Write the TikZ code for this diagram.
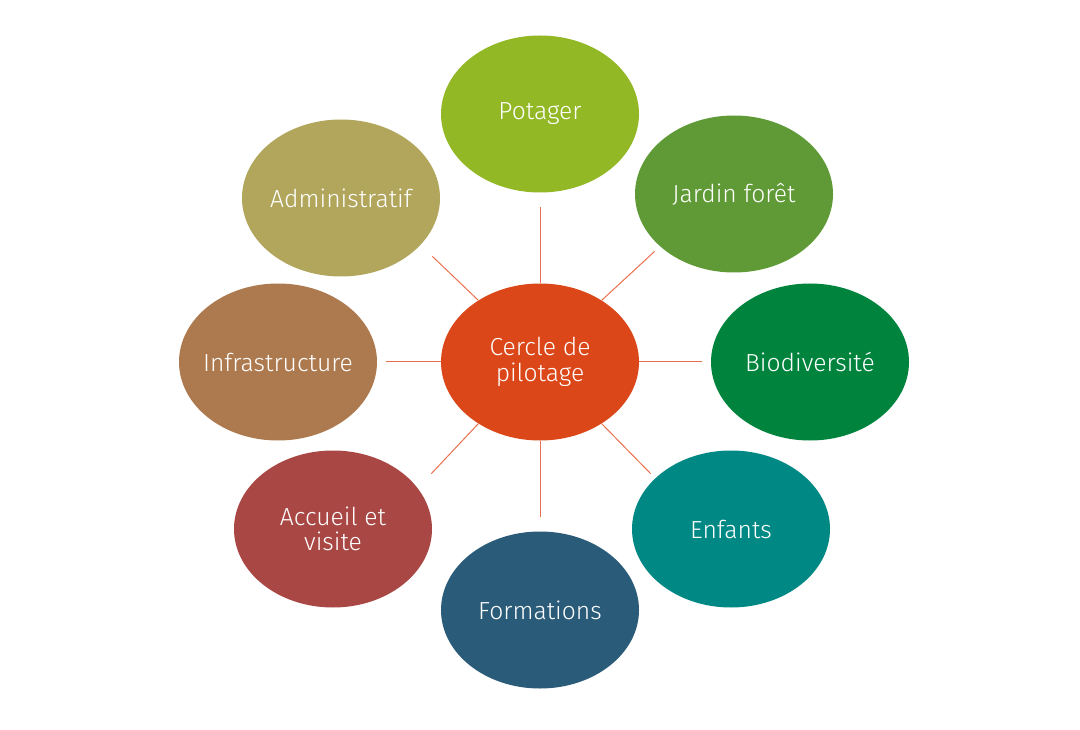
\documentclass[tikz,border=0pt]{standalone}
\usepackage{fontspec}
\setmainfont{Fira Sans Light}
\usepackage{tikz}
\usetikzlibrary{shapes.geometric}

\definecolor{cpilot}{HTML}{DB4718}
\definecolor{cpotager}{HTML}{93B826}
\definecolor{cjardin}{HTML}{5F9A36}
\definecolor{cbio}{HTML}{00843D}
\definecolor{cenfants}{HTML}{008984}
\definecolor{cformation}{HTML}{2A5B78}
\definecolor{caccueil}{HTML}{A94744}
\definecolor{cinfra}{HTML}{AD7A50}
\definecolor{cadmin}{HTML}{B2A65C}
\definecolor{clink}{HTML}{E9704F}

\begin{document}
\begin{tikzpicture}[
    x=0.75pt, y=-0.75pt,
    every node/.style={font=\fontsize{18.5pt}{19pt}\selectfont},
    pole/.style={ellipse, minimum width=148.5pt, minimum height=117.75pt,
        inner xsep=-25pt, inner ysep=0pt, align=center, text=white},
    link/.style={draw=clink, line width=0.75pt}
]
\useasboundingbox (0,0) rectangle (1080,730);

\node[pole, fill=cpilot] (pilot) at (540,362) {Cercle de\\pilotage};
\node[pole, fill=cpotager] (potager) at (540,114) {Potager};
\node[pole, fill=cjardin] (jardin) at (734,194) {Jardin forêt};
\node[pole, fill=cbio] (bio) at (810,362) {Biodiversité};
\node[pole, fill=cenfants] (enfants) at (731,529) {Enfants};
\node[pole, fill=cformation] (formation) at (540,610) {Formations};
\node[pole, fill=caccueil] (accueil) at (333,529) {Accueil et\\visite};
\node[pole, fill=cinfra] (infra) at (278,362) {Infrastructure};
\node[pole, fill=cadmin] (admin) at (341,198) {Administratif};

% rayons du cercle de pilotage
\foreach \a/\p/\dx/\dy in {90/potager/0/-76, 45/jardin/53/-49, 0/bio/63/0,
    -45/enfants/49/50, -90/formation/0/76, -135/accueil/-47/50,
    180/infra/-55/0, 135/admin/-46/-44}
{
    \coordinate (end-\p) at ([shift={(\dx,\dy)}]pilot.\a);
    \draw[link] (pilot.\a) -- (end-\p);
}
\end{tikzpicture}
\end{document}
